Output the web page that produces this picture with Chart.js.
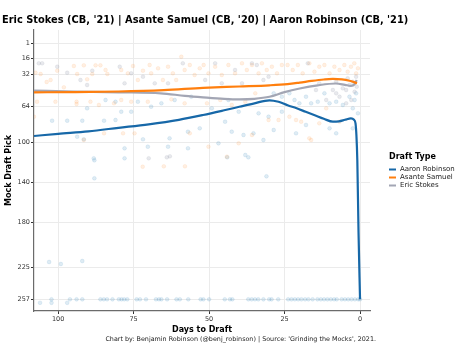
<!DOCTYPE html>
<html>
<head>
<meta charset="utf-8">
<script src="https://cdn.jsdelivr.net/npm/chart.js@4.4.0/dist/chart.umd.min.js"></script>
<style>
  html, body { margin: 0; padding: 0; background: #fff; }
  #wrap { width: 468px; height: 351px; }
</style>
</head>
<body>
<div id="wrap"><canvas id="mockChart" width="468" height="351"></canvas></div>
<script>
// ---- data (days to draft, mock draft pick) ----
const xTicks = [100, 75, 50, 25, 0];
const pickTicks = [1, 16, 32, 64, 100, 140, 180, 225, 257];

// smoothed trend lines
const robinsonTrendDays  = [108, 100, 90, 80, 70, 60, 52, 45, 40, 35, 30, 27, 24, 21, 18, 15, 12, 9, 7, 5, 3, 2, 1.5, 1.2, 0.9, 0.5, 0];
const robinsonTrendPicks = [93.7, 91.5, 89, 85.5, 82, 77.5, 72.7, 68, 64.5, 61, 58, 59.5, 63, 66, 69.5, 73, 76.5, 79.4, 79, 77.5, 76, 77.5, 81, 93, 118, 190, 257];

const samuelTrendDays  = [108, 95, 80, 65, 52, 40, 30, 24, 20, 16, 12, 9, 6, 3.5, 2, 1];
const samuelTrendPicks = [50, 49.8, 49.2, 47.8, 45.6, 44.2, 43, 41.8, 40.3, 38.6, 37.2, 36.6, 37, 38.4, 39.8, 41];

const stokesTrendDays  = [108, 95, 80, 66, 58, 52, 45, 40, 35, 30, 25, 20, 14, 8, 5, 3, 1.8, 1.1];
const stokesTrendPicks = [48.4, 49.2, 50, 51, 53.5, 55, 56.5, 57, 56.5, 54.5, 49.8, 46.2, 43, 41.2, 42.5, 43.5, 42, 37.7];

// individual mocks
const robinsonMockDays = [
  84.3, 81, 90.4, 102, 97, 92, 84.8, 81, 93.7, 91.5, 88.2,
  73.6, 65.8, 61.4, 55.9, 79.1, 75.8, 69.2, 63.1, 57, 53.1, 70.3, 63.6, 57, 78, 71.9,
  43.6, 28.6, 25.9, 49.1, 44.7, 40.2, 33.6, 30.3, 25.9, 46.9, 42.5, 38.6, 35.3, 32, 28.6, 38,
  23.4, 21.7, 20.1, 17.9, 16.2, 14, 11.8, 10.1, 7.9, 5.7, 3.5, 2.4, 1.3, 0.7, 1.8, 10.1, 7.9, 2.4, 21.2, 17.9,
  88, 88, 78, 44, 37, 31,
  103, 99.1, 92,
  106, 102.2, 97,
  102.2, 96.1, 93.9, 92, 86, 84.9, 83.8, 82, 79.9, 79, 78.1, 77.1, 74, 72.9, 70.9, 67.6, 66.6, 65.8, 63.9,
  60.8, 59.7, 56.9, 52.8, 51.9, 50, 44.8, 43.1, 42.3, 37, 35.9, 34.8, 33.7, 32, 30.1, 29.3, 27.1,
  23.8, 22.7, 21.6, 20.5, 19.4, 18.2, 17.1, 15.7, 14.1, 13, 11.9, 10.8, 9.7, 8.6, 7.7, 6.1, 5, 3.9, 2.8, 1.7, 0.6, 0
];
const robinsonMockPicks = [
  57.7, 59.4, 66, 78.4, 78.4, 78.4, 78.4, 77.7, 94.4, 97, 116,
  59.4, 61, 57.7, 54.4, 69.4, 69.4, 64.4, 96, 89.4, 86, 104.4, 104.4, 106, 106, 97,
  57.7, 51, 54.4, 66, 79.4, 69.4, 71, 74.4, 69.4, 101, 89.4, 92.7, 91, 97.7, 87.7, 112.7,
  51, 57.7, 61, 54.4, 61, 59.4, 51, 61, 59.4, 62.7, 54.4, 66, 51, 71, 57.7, 86, 91, 86, 91, 82.7,
  118, 136, 116, 115, 115, 134,
  219.7, 221.7, 218.7,
  260.5, 260.5, 260.5,
  257, 257, 257, 257, 257, 257, 257, 257, 257, 257, 257, 257, 257, 257, 257, 257, 257, 257, 257,
  257, 257, 257, 257, 257, 257, 257, 257, 257, 257, 257, 257, 257, 257, 257, 257, 257,
  257, 257, 257, 257, 257, 257, 257, 257, 257, 257, 257, 257, 257, 257, 257, 257, 257, 257, 257, 257, 257, 257
];

const samuelMockDays = [
  107.5, 105.8, 103.8, 102.5, 100.3, 98.1, 94.8, 93.7, 91.5, 90.4, 88.7, 87.6, 86, 84.3, 83.7,
  107, 100.9, 93.9, 93.9, 89.3, 86.5, 84.8, 81.5, 91.5, 108,
  79.1, 76.9, 75.2, 73.6, 71.9, 69.7, 69.2, 66.9, 65.3, 63.6, 62, 60.9, 59.2, 58.1, 56.4, 54.8, 53.1,
  79.1, 75.8, 70.3, 62.5, 58.1, 78.5, 74.7, 56.4,
  51.8, 50.2, 48, 45.8, 43.6, 41.4, 39.1, 37.5, 35.8, 33.6, 32.5, 30.9, 29.2, 27.5, 25.9,
  50.7, 46.3, 42.5, 38, 34.7, 30.3, 27, 50.2, 44.1, 40.2, 35.8,
  24, 22.3, 20.6, 19, 16.8, 15.1, 13.5, 11.8, 10.1, 8.5, 6.8, 5.2, 4.1, 3, 1.9, 1.3, 0.7,
  23.4, 21.2, 19.5, 16.8, 13.5, 6.8, 16.2, 11.2,
  72, 65, 58
];
const samuelMockPicks = [
  30.4, 31.7, 39.7, 37.7, 28.4, 45, 23.7, 31.7, 23, 37, 31.7, 23, 23, 27.7, 31.7,
  59.4, 59.4, 59.4, 61.7, 59.4, 62.7, 91, 61, 97.7, 74.4,
  27.7, 31, 23.7, 37.7, 28.4, 22.7, 31, 26, 37.7, 24.4, 31, 37.7, 14.4, 27.7, 22.7, 32.7, 26,
  57.7, 59.4, 59.4, 57, 61, 91, 91, 91,
  22.7, 31, 24.4, 32.7, 22.7, 31, 21, 27.7, 22.7, 31, 21, 27.7, 24.4, 31, 22.7,
  61, 57.7, 62.7, 59.4, 51, 77.7, 77.7, 104.4, 114.4, 101, 92.7,
  22.7, 27.7, 22.7, 31, 21, 29.4, 24.4, 22.7, 31, 24.4, 27.7, 22.7, 29.4, 24.4, 21, 31, 26,
  74.4, 77.7, 79.4, 96, 81, 79.4, 97.7, 66,
  124.4, 124, 124
];

const stokesMockDays = [
  106.4, 105.3, 100.3, 97, 92.6, 90.4, 88.7,
  79.6, 78, 75.8, 71.9, 68, 63.6, 58.7,
  51.3, 48, 45.8, 41.4, 39.1, 35.8, 34.2, 32, 30.3,
  17.3, 13.5, 7.9, 4.1, 4.6, 9, 7.9, 5.7, 3.5, 2.4, 1.3, 1.1, 1.8, 2.9, 4.6, 6.8, 11.2, 14.6,
  70, 64, 63
];
const stokesMockPicks = [
  21, 21, 24.4, 30.4, 37.7, 42.7, 28.4,
  24.4, 41, 31, 34.4, 41, 41, 21,
  37.7, 21, 41, 27.7, 41, 21, 22.7, 37.7, 34.4,
  21, 41, 39.4, 36, 47.7, 47.7, 51, 46, 42.7, 39.4, 34.4, 44.4, 49.4, 57.7, 61, 54.4, 57.7, 47.7,
  116, 115, 114
];

const seriesNames = ['Aaron Robinson', 'Asante Samuel', 'Eric Stokes'];
const seriesColors = ['#1768a8', '#ff7f0e', '#a3a6b4'];
const seriesFaded = ['rgba(31, 119, 180, 0.14)', 'rgba(255, 127, 14, 0.12)', 'rgba(130, 135, 155, 0.18)'];
const seriesFadedEdge = ['rgba(31, 119, 180, 0.2)', 'rgba(255, 127, 14, 0.16)', 'rgba(130, 135, 155, 0.22)'];

const chartTitle = "Eric Stokes (CB, '21) | Asante Samuel (CB, '20) | Aaron Robinson (CB, '21)";
const chartCaption = "Chart by: Benjamin Robinson (@benj_robinson) | Source: 'Grinding the Mocks', 2021.";

const FONT = '"DejaVu Sans", "Noto Sans", sans-serif';

function toPoints(days, picks) {
    return days.map((d, i) => ({ x: d, y: picks[i] }));
}

function trendSet(i, days, picks) {
    return {
        label: seriesNames[i],
        data: toPoints(days, picks),
        showLine: true,
        borderColor: seriesColors[i],
        borderWidth: 2.2,
        pointRadius: 0,
        cubicInterpolationMode: 'monotone',
        fill: false
    };
}

function mockSet(i, days, picks) {
    return {
        label: seriesNames[i] + ' mocks',
        data: toPoints(days, picks),
        showLine: false,
        pointRadius: 1.9,
        pointBackgroundColor: seriesFaded[i],
        pointBorderColor: seriesFadedEdge[i],
        pointBorderWidth: 0.5
    };
}

// title, legend and caption drawn by hand so they can sit outside the plot box
const decorations = {
    id: 'decorations',
    afterDraw(chart) {
        const { ctx, chartArea } = chart;
        ctx.save();
        ctx.textBaseline = 'middle';

        // title
        ctx.fillStyle = '#000';
        ctx.font = 'bold 9.85px ' + FONT;
        ctx.fillText(chartTitle, 2, 20);

        // legend
        const x = chartArea.right + 19;
        let y = (chartArea.top + chartArea.bottom) / 2 - 14;
        ctx.font = 'bold 8px ' + FONT;
        ctx.fillText('Draft Type', x, y);
        ctx.font = '7px ' + FONT;
        y += 13;
        for (let i = 0; i < 3; i++) {
            ctx.strokeStyle = seriesColors[i];
            ctx.lineWidth = 2;
            ctx.beginPath();
            ctx.moveTo(x, y);
            ctx.lineTo(x + 7, y);
            ctx.stroke();
            ctx.fillStyle = '#222';
            ctx.fillText(seriesNames[i], x + 11, y);
            y += 8;
        }

        // caption
        ctx.font = '6.4px ' + FONT;
        ctx.fillStyle = '#222';
        ctx.textAlign = 'right';
        ctx.fillText(chartCaption, chartArea.right + 6, 339);
        ctx.restore();
    }
};

const ctx = document.getElementById('mockChart');
new Chart(ctx, {
    type: 'scatter',
    data: {
        datasets: [
            trendSet(0, robinsonTrendDays, robinsonTrendPicks),
            trendSet(1, samuelTrendDays, samuelTrendPicks),
            trendSet(2, stokesTrendDays, stokesTrendPicks),
            mockSet(2, stokesMockDays, stokesMockPicks),
            mockSet(1, samuelMockDays, samuelMockPicks),
            mockSet(0, robinsonMockDays, robinsonMockPicks)
        ]
    },
    options: {
        responsive: false,
        animation: false,
        events: [],
        layout: {
            padding: { left: 2, right: 98, top: 30, bottom: 0 }
        },
        plugins: {
            legend: { display: false },
            tooltip: { enabled: false },
            title: { display: false }
        },
        scales: {
            x: {
                type: 'linear',
                reverse: true,
                min: -3.3,
                max: 108,
                afterBuildTicks: (scale) => { scale.ticks = xTicks.map(v => ({ value: v })); },
                afterFit: (scale) => { scale.height = 40; },
                grid: { color: '#ebebeb', lineWidth: 1, tickLength: 3, tickColor: '#333' },
                border: { display: true, color: '#6b6b6b', width: 1.2 },
                ticks: { color: '#333', padding: 1, font: { family: FONT, size: 6.5 } },
                title: {
                    display: true,
                    text: 'Days to Draft',
                    color: '#000',
                    font: { family: FONT, size: 8, weight: 'bold' },
                    padding: { top: 0, bottom: 16 }
                }
            },
            y: {
                type: 'linear',
                reverse: true,
                min: -12.3,
                max: 268.7,
                afterBuildTicks: (scale) => { scale.ticks = pickTicks.map(v => ({ value: v })); },
                afterFit: (scale) => { scale.width = 32; },
                grid: { color: '#ebebeb', lineWidth: 1, tickLength: 3, tickColor: '#333' },
                border: { display: true, color: '#6b6b6b', width: 1.2 },
                ticks: { color: '#333', padding: 1, font: { family: FONT, size: 6.5 } },
                title: {
                    display: true,
                    text: 'Mock Draft Pick',
                    color: '#000',
                    font: { family: FONT, size: 8, weight: 'bold' },
                    padding: { top: 2.5, bottom: 0 }
                }
            }
        }
    },
    plugins: [decorations]
});
</script>
</body>
</html>
